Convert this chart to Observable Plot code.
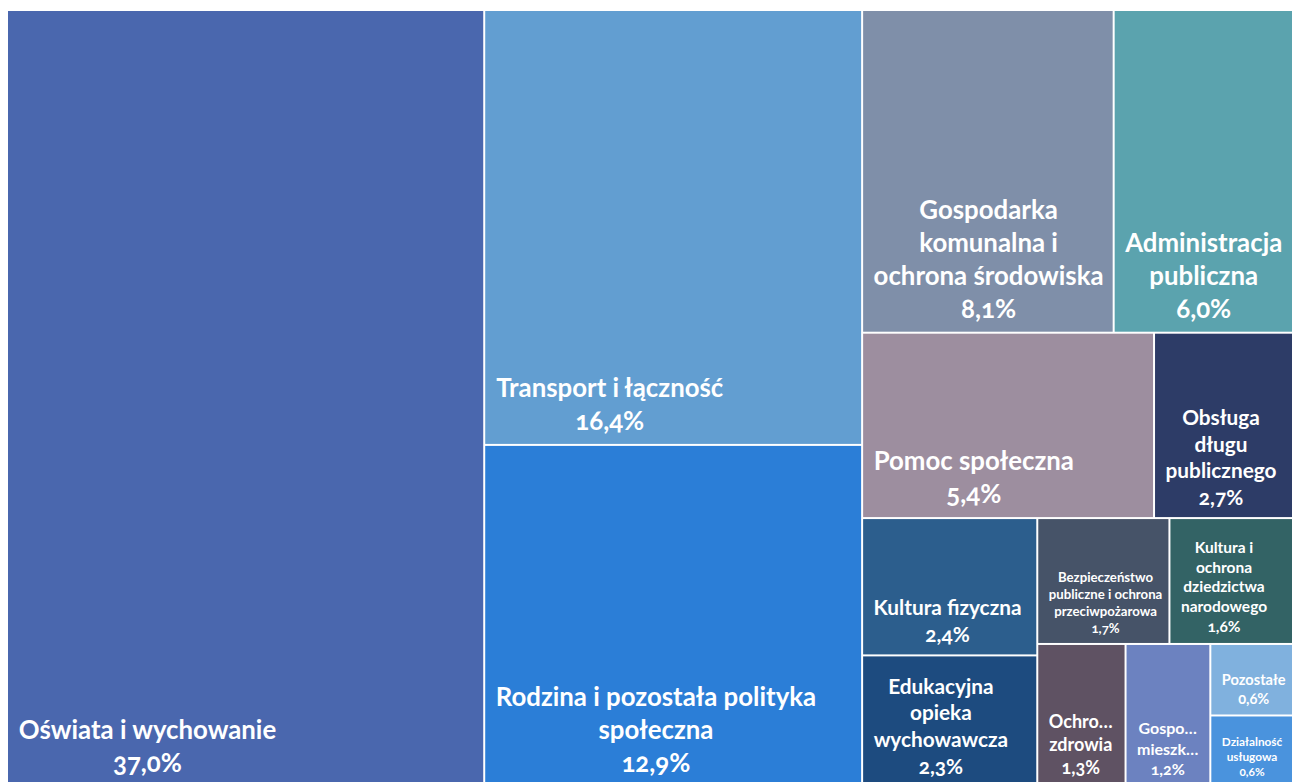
<!DOCTYPE html>
<html>
<head>
<meta charset="utf-8">
<script src="https://cdn.jsdelivr.net/npm/d3@7"></script>
<script src="https://cdn.jsdelivr.net/npm/@observablehq/plot@0.6"></script>
<style>
  html, body { margin: 0; padding: 0; background: #ffffff; overflow: hidden; }
  #chart svg { display: block; }
</style>
</head>
<body>
<div id="chart"></div>
<script>
// ---- data ----
const categories = [
  "Oświata i wychowanie",
  "Transport i łączność",
  "Rodzina i pozostała polityka społeczna",
  "Gospodarka komunalna i ochrona środowiska",
  "Administracja publiczna",
  "Pomoc społeczna",
  "Obsługa długu publicznego",
  "Kultura fizyczna",
  "Edukacyjna opieka wychowawcza",
  "Bezpieczeństwo publiczne i ochrona przeciwpożarowa",
  "Kultura i ochrona dziedzictwa narodowego",
  "Ochrona zdrowia",
  "Gospodarka mieszkaniowa",
  "Pozostałe",
  "Działalność usługowa"
];
// shares in %, estimated from the labels and the tile areas
const shares = [37.0, 16.4, 12.9, 8.1, 6.0, 5.4, 2.7, 2.4, 2.3, 1.66, 1.64, 1.26, 1.21, 0.64, 0.64];
const labelLines = [
  "Oświata i wychowanie",
  "Transport i łączność",
  "Rodzina i pozostała polityka\nspołeczna",
  "Gospodarka\nkomunalna i\nochrona środowiska",
  "Administracja\npubliczna",
  "Pomoc społeczna",
  "Obsługa\ndługu\npublicznego",
  "Kultura fizyczna",
  "Edukacyjna\nopieka\nwychowawcza",
  "Bezpieczeństwo\npubliczne i ochrona\nprzeciwpożarowa",
  "Kultura i\nochrona\ndziedzictwa\nnarodowego",
  "Ochro…\nzdrowia",
  "Gospo…\nmieszk…",
  "Pozostałe",
  "Działalność\nusługowa"
];
const colors = [
  "#4a67ae", "#629ed1", "#2b7ed7", "#7f8fa9", "#5ba3ae",
  "#9d8e9f", "#2d3c67", "#2c5e8d", "#1d4b7f", "#465368",
  "#336365", "#5f5263", "#6c82c0", "#80b1de", "#4a93dd"
];

// ---- styles ----
const labelFontSize = {
  "Oświata i wychowanie": 25.8,
  "Transport i łączność": 25.8,
  "Rodzina i pozostała polityka społeczna": 25.8,
  "Gospodarka komunalna i ochrona środowiska": 25.8,
  "Administracja publiczna": 25.8,
  "Pomoc społeczna": 25.8,
  "Obsługa długu publicznego": 20.8,
  "Kultura fizyczna": 20.8,
  "Edukacyjna opieka wychowawcza": 20.8,
  "Bezpieczeństwo publiczne i ochrona przeciwpożarowa": 13.2,
  "Kultura i ochrona dziedzictwa narodowego": 15.5,
  "Ochrona zdrowia": 18,
  "Gospodarka mieszkaniowa": 16,
  "Pozostałe": 14.6,
  "Działalność usługowa": 11.8
};
const FONT = "Lato, 'Open Sans', sans-serif";

// ---- layout ----
const TW = 1293, TH = 777;   // treemap extent (partly cropped by the window)
const root = d3.hierarchy({children: categories.map((c, i) => ({name: c, value: shares[i], label: labelLines[i], color: colors[i]}))})
  .sum(d => d.value || 0)
  .sort((a, b) => b.value - a.value);
d3.treemap().tile(d3.treemapSquarify.ratio(1)).size([TW, TH]).round(false)(root);

const pct = v => d3.format(".1f")(v).replace(".", ",") + "%";
const ctx = document.createElement("canvas").getContext("2d");
const cells = root.leaves().map(n => {
  const fs = labelFontSize[n.data.name];
  const text = n.data.label + "\n" + pct(n.data.value);
  ctx.font = `700 ${fs}px ${FONT}`;
  const tw = d3.max(text.split("\n"), l => ctx.measureText(l).width);
  return {...n.data, x0: n.x0, x1: n.x1, y0: n.y0, y1: n.y1, fs, text, tw};
});

const chart = Plot.plot({
  width: 1292,
  height: 782,
  margin: 0,
  x: {domain: [0, TW], range: [7, 7 + TW], axis: null},
  y: {domain: [0, TH], range: [10, 10 + TH], axis: null},
  color: {type: "identity"},
  style: {fontFamily: FONT, background: "#ffffff"},
  marks: [
    Plot.rect(cells, {x1: "x0", x2: "x1", y1: "y0", y2: "y1", fill: "color", inset: 1}),
    Plot.text(cells, {
      x: d => d.x0 + 11 + d.tw / 2,
      y: d => d.y1 - 8 - 0.28 * d.fs,
      text: "text",
      fontSize: "fs",
      fontWeight: 700,
      fill: "#ffffff",
      textAnchor: "middle",
      lineAnchor: "bottom",
      lineHeight: 1.28
    })
  ]
});
chart.style.fontVariantNumeric = "oldstyle-nums";
document.getElementById("chart").appendChild(chart);
</script>
</body>
</html>
